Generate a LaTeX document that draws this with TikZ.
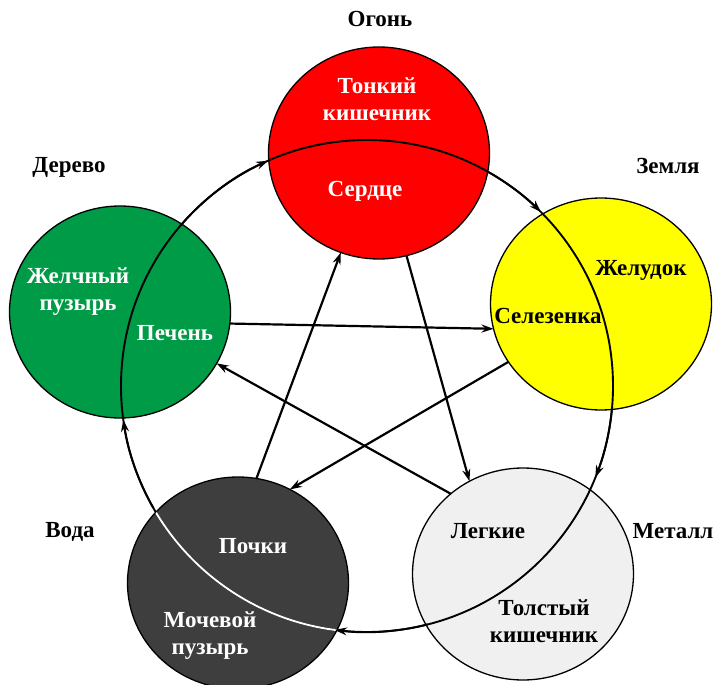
\documentclass[tikz,border=0pt]{standalone}
\usepackage{fontspec}
\setmainfont{Liberation Serif}
\usetikzlibrary{shapes.geometric,arrows.meta}
\definecolor{firered}{RGB}{255,0,0}
\definecolor{earthyellow}{RGB}{255,255,0}
\definecolor{woodgreen}{RGB}{0,155,70}
\definecolor{waterdark}{RGB}{62,62,62}
\definecolor{metalgray}{RGB}{240,240,240}
\tikzset{
  elem/.style={ellipse, draw=black, line width=1.3pt, minimum width=221pt, minimum height=212pt, inner sep=0pt, outer sep=0pt},
  lbl/.style={font=\fontsize{23}{27}\selectfont\bfseries, inner sep=0pt},
  conn/.style={line width=2.2pt, -{Stealth[length=12pt,width=8pt]}},
  cycline/.style={line width=1.9pt},
  cycarrow/.style={line width=1.9pt, -{Stealth[length=12pt,width=8pt]}}
}
\begin{document}
\begin{tikzpicture}[x=1pt,y=-1pt]
\useasboundingbox (0,0) rectangle (718,685);
% element circles
\node[elem, fill=firered] (fire) at (379,153) {};
\node[elem, fill=earthyellow] (earth) at (601,304) {};
\node[elem, fill=woodgreen] (wood) at (120,312) {};
\node[elem, fill=waterdark] (water) at (238,583) {};
\node[elem, fill=metalgray] (metal) at (523,574) {};
% generating cycle
\coordinate (cyc) at (367,386);
\draw[cycline] (cyc) circle[radius=246];
\begin{scope}
  \clip (water.center) ellipse[x radius=109.8, y radius=105.3];
  \draw[cycline, white] (cyc) circle[radius=246];
\end{scope}
\foreach \a/\b in {220.4/246.3, 299.7/315, 4.9/21.8, 75.7/97.5, 150.3/172.1}
  \draw[cycarrow] ([shift={(\a:246)}]cyc) arc[start angle=\a, end angle=\b, radius=246];
% controlling star
\draw[conn] (wood.-6) -- (earth.-167.6);
\draw[conn] (earth.212.1) -- (water.61.4);
\draw[conn] (water.80.8) -- (fire.249.8);
\draw[conn] (fire.-75.7) -- (metal.120);
\draw[conn] (metal.132.4) -- (wood.-28.4);
% element names
\node[lbl, anchor=base] (fireT) at (380,27) {Огонь};
\node[lbl, anchor=base] (earthT) at (668,173) {Земля};
\node[lbl, anchor=base] (woodT) at (69,172) {Дерево};
\node[lbl, anchor=base] (waterT) at (70,537) {Вода};
\node[lbl, anchor=base] (metalT) at (673,538) {Металл};
% organs
\node[lbl, white, align=center] (smallint) at (377,99) {Тонкий\\кишечник};
\node[lbl, white, anchor=base] (heart) at (365,196) {Сердце};
\node[lbl, anchor=base] (stomach) at (641,275) {Желудок};
\node[lbl, anchor=base] (spleen) at (548,323) {Селезенка};
\node[lbl, white, align=center] (gallb) at (78,292) {Желчный\\пузырь};
\node[lbl, white, anchor=base] (liver) at (175,340) {Печень};
\node[lbl, white, anchor=base] (kidney) at (253,553) {Почки};
\node[lbl, white, align=center] (bladder) at (210,636) {Мочевой\\пузырь};
\node[lbl, anchor=base] (lungs) at (488,538) {Легкие};
\node[lbl, align=center] (largeint) at (544,621) {Толстый\\кишечник};
\end{tikzpicture}
\end{document}
